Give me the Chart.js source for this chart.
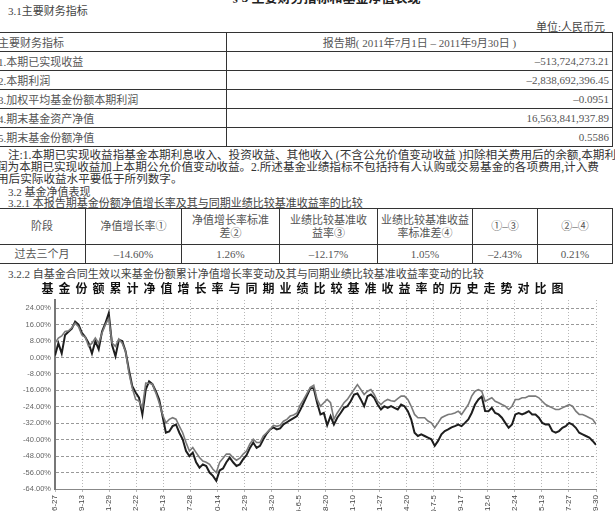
<!DOCTYPE html>
<html>
<head>
<meta charset="utf-8">
<script src="https://cdn.jsdelivr.net/npm/chart.js@4.4.1/dist/chart.umd.min.js"></script>
<style>
  body { margin: 0; width: 615px; height: 511px; overflow: hidden; background: #fff; position: relative;
         font-family: "Liberation Serif", "Noto Sans CJK SC", serif; color: #444; }
  .t { position: absolute; white-space: nowrap; font-size: 11px; line-height: 12px; }
  table { position: absolute; border-collapse: collapse; font-size: 11px; color: #555; }
  td { border: 1px solid #333; padding: 0 3px; }
  #fin td { height: 18px; }
  #nav td { text-align: center; line-height: 13px; }
  #chartBox { position: absolute; left: 0; top: 280px; width: 615px; height: 260px; }
</style>
</head>
<body>
<div class="t" style="left:232px;top:-8px;font-size:13px;font-weight:bold;color:#222">§ 3 主要财务指标和基金净值表现</div>
<div class="t" style="left:8px;top:5px">3.1主要财务指标</div>
<div class="t" style="right:10px;top:21px">单位:人民币元</div>

<table id="fin" style="left:-6px;top:32px;width:619px">
  <tr><td style="width:225px">主要财务指标</td><td style="text-align:center">报告期( 2011年7月1日 – 2011年9月30日 )</td></tr>
  <tr><td>1.本期已实现收益</td><td style="text-align:right">–513,724,273.21</td></tr>
  <tr><td>2.本期利润</td><td style="text-align:right">–2,838,692,396.45</td></tr>
  <tr><td>3.加权平均基金份额本期利润</td><td style="text-align:right">–0.0951</td></tr>
  <tr><td>4.期末基金资产净值</td><td style="text-align:right">16,563,841,937.89</td></tr>
  <tr><td>5.期末基金份额净值</td><td style="text-align:right">0.5586</td></tr>
</table>

<div class="t" style="left:8px;top:150px;font-size:11.6px;color:#333">注:1.本期已实现收益指基金本期利息收入、投资收益、其他收入 (不含公允价值变动收益 )扣除相关费用后的余额,本期利</div>
<div class="t" style="left:-4px;top:162px;font-size:11.6px;color:#333">润为本期已实现收益加上本期公允价值变动收益。2.所述基金业绩指标不包括持有人认购或交易基金的各项费用,计入费</div>
<div class="t" style="left:-3px;top:174px;font-size:11.6px;color:#333">用后实际收益水平要低于所列数字。</div>
<div class="t" style="left:8px;top:186px;color:#444">3.2 基金净值表现</div>
<div class="t" style="left:8px;top:197px;color:#444">3.2.1 本报告期基金份额净值增长率及其与同期业绩比较基准收益率的比较</div>

<table id="nav" style="left:-2px;top:208px;width:615px">
  <tr style="height:36px">
    <td style="width:80px">阶段</td><td style="width:89px">净值增长率①</td><td style="width:91px">净值增长率标准<br>差②</td>
    <td style="width:91px">业绩比较基准收<br>益率③</td><td style="width:88px">业绩比较基准收益<br>率标准差④</td><td style="width:58px">①–③</td><td>②–④</td>
  </tr>
  <tr style="height:19px">
    <td>过去三个月</td><td>–14.60%</td><td>1.26%</td><td>–12.17%</td><td>1.05%</td><td>–2.43%</td><td>0.21%</td>
  </tr>
</table>

<div class="t" style="left:8px;top:268px;color:#444">3.2.2 自基金合同生效以来基金份额累计净值增长率变动及其与同期业绩比较基准收益率变动的比较</div>

<div id="chartBox"><canvas id="navChart" width="615" height="260"></canvas></div>

<script>
const chartTitle = '基金份额累计净值增长率与同期业绩比较基准收益率的历史走势对比图';

const tickLabels = ['2007-6-27', '2007-9-13', '2007-11-29', '2008-2-22', '2008-5-13', '2008-7-28', '2008-10-14',
    '2008-12-29', '2009-3-20', '2009-6-5', '2009-8-20', '2009-11-10', '2010-1-27', '2010-4-20', '2010-7-5',
    '2010-9-17', '2010-12-6', '2011-2-24', '2011-5-13', '2011-7-27', '2011-9-30'];

const yTicks = [24, 16, 8, 0, -8, -16, -24, -32, -40, -48, -56, -64];

// 基金份额累计净值增长率 (%)
const fundReturn = [
    1, 7, 2, 11, 12.5, 14, 17.5, 16, 12, 10,
    7, 2, 8, 4, 12.7, 16.7, 21.6, 6, 0.6, 8.6,
    8, 3, -6, -14, -17, -19.5, -27.7, -15.6, -11.6, -13,
    -16.4, -20.4, -28.5, -36.6, -36, -33.4, -32.6, -36.6, -39.8, -45.5,
    -48, -46.3, -51, -53.6, -52, -52.8, -56, -57.6, -60, -55,
    -54, -51, -48.7, -51, -52.8, -52, -49.5, -47.5, -44, -41.4,
    -44, -43, -39.8, -37, -35, -34, -35, -34.5, -32.5, -31.5,
    -30.5, -29.5, -28.5, -25.5, -22, -18.5, -15, -15, -22, -27.7,
    -27, -33, -28.5, -32.6, -29.3, -27, -24.5, -23.7, -21.3, -18,
    -17.5, -20.4, -23.7, -18.8, -18, -19.6, -22.9, -25.3, -23.7, -24.5,
    -23.7, -24.5, -25.3, -22.9, -23.7, -26.1, -30.1, -36.6, -38.2, -37.4,
    -38.2, -39, -39.8, -43, -40.6, -37.4, -35.8, -35, -34, -33.4,
    -32.6, -33.4, -31.8, -30.1, -27, -22.9, -20.4, -19, -26, -26.1,
    -24.5, -27, -27.7, -29.3, -31.8, -34.2, -32.6, -27.7, -27, -27.7,
    -27, -26.1, -27.7, -27.7, -29.3, -31.8, -32.6, -32.6, -35.8, -36.6,
    -35.8, -34.2, -33.4, -31.8, -32.6, -34.2, -36.6, -37.4, -38.2, -39,
    -40.6, -42.5
];

// 业绩比较基准收益率 (%)
const benchReturn = [
    7, 9.5, 10.5, 12.7, 13, 14.5, 16.7, 15, 11, 10,
    5.4, 7, 9.5, 7, 11.9, 16, 19, 7, 5.4, 9,
    7, 3, -7.5, -14.8, -20.4, -21.2, -24.5, -12.4, -12.5, -13,
    -17.2, -22, -27.7, -31.8, -30.1, -29.3, -30, -33.4, -36.6, -41.4,
    -45.5, -43.8, -46.3, -48.7, -50.4, -51, -52, -54.4, -56, -51,
    -49, -47, -47, -48.7, -50, -49, -47, -45.5, -42, -39.8,
    -41.4, -41.4, -38.2, -36.6, -35, -33, -33.5, -33, -31, -30.1,
    -28.5, -28, -27, -23, -20.4, -17.5, -14.5, -13.5, -20.4, -23.7,
    -22, -20.4, -22, -30, -27, -24.5, -22, -20.4, -18, -15.6,
    -13.2, -15.6, -18, -16.4, -15.6, -18, -21.3, -22.9, -21.3, -20.4,
    -21, -21.3, -20, -18.8, -18.8, -20.4, -23.7, -27.7, -29.3, -29.3,
    -29.3, -30.9, -31.8, -34.2, -31.8, -29.3, -28.5, -27.7, -27.5, -27,
    -26.1, -27.7, -25.3, -22.9, -18.8, -16.4, -15.6, -16.4, -21.3, -20.4,
    -19.6, -21.3, -22, -22.9, -23.7, -25.3, -23.7, -20.4, -20.4, -19.6,
    -19.6, -18.8, -18.8, -18.8, -19.6, -21.3, -22.9, -23.7, -24.5, -25.3,
    -25.3, -24.5, -23.7, -22.9, -23.7, -26.1, -27.7, -27.7, -28.5, -29.3,
    -30.1, -32.5
];

const lastIndex = fundReturn.length - 1;

// title with wide letter spacing, drawn by hand
const titlePlugin = {
    id: 'spacedTitle',
    afterDraw(chart) {
        const ctx = chart.ctx;
        ctx.save();
        ctx.font = 'bold 12px "Noto Sans CJK SC"';
        ctx.letterSpacing = '5px';
        ctx.fillStyle = '#111';
        ctx.textAlign = 'center';
        ctx.textBaseline = 'middle';
        ctx.fillText(chartTitle, 305, 8);
        ctx.restore();
    }
};

new Chart(document.getElementById('navChart').getContext('2d'), {
    type: 'line',
    data: {
        datasets: [{
            label: '业绩比较基准收益率',
            data: benchReturn.map((v, i) => ({x: i, y: v})),
            borderColor: '#7a7a7a',
            borderWidth: 1.6,
            pointRadius: 0,
            tension: 0
        }, {
            label: '基金份额累计净值增长率',
            data: fundReturn.map((v, i) => ({x: i, y: v})),
            borderColor: '#1e1e1e',
            borderWidth: 2,
            pointRadius: 0,
            tension: 0
        }]
    },
    options: {
        responsive: false,
        animation: false,
        layout: {padding: {top: 20, right: 19}},
        plugins: {legend: {display: false}, tooltip: {enabled: false}},
        scales: {
            x: {
                type: 'linear',
                min: 0,
                max: lastIndex,
                afterBuildTicks: (scale) => {
                    scale.ticks = tickLabels.map((t, i) => ({value: i * lastIndex / (tickLabels.length - 1)}));
                },
                afterFit: (scale) => { scale.height = 51; },
                ticks: {
                    minRotation: 90,
                    maxRotation: 90,
                    autoSkip: false,
                    font: {size: 8, family: 'Liberation Sans'},
                    color: '#444',
                    callback: (v, i) => tickLabels[i]
                },
                grid: {color: '#b8b8b8', lineWidth: 1, tickLength: 3},
                border: {color: '#888', dash: [1, 2]}
            },
            y: {
                min: -64,
                max: 28,
                afterBuildTicks: (scale) => {
                    scale.ticks = yTicks.map((v) => ({value: v}));
                },
                afterFit: (scale) => { scale.width = 55; },
                ticks: {
                    font: {size: 7.5, family: 'Liberation Sans'},
                    color: '#666',
                    padding: 4,
                    callback: (v) => v.toFixed(2) + '%'
                },
                grid: {color: '#999', lineWidth: 1, tickLength: 0},
                border: {color: '#777', width: 2, dash: [3, 2]}
            }
        }
    },
    plugins: [titlePlugin]
});
</script>
</body>
</html>
